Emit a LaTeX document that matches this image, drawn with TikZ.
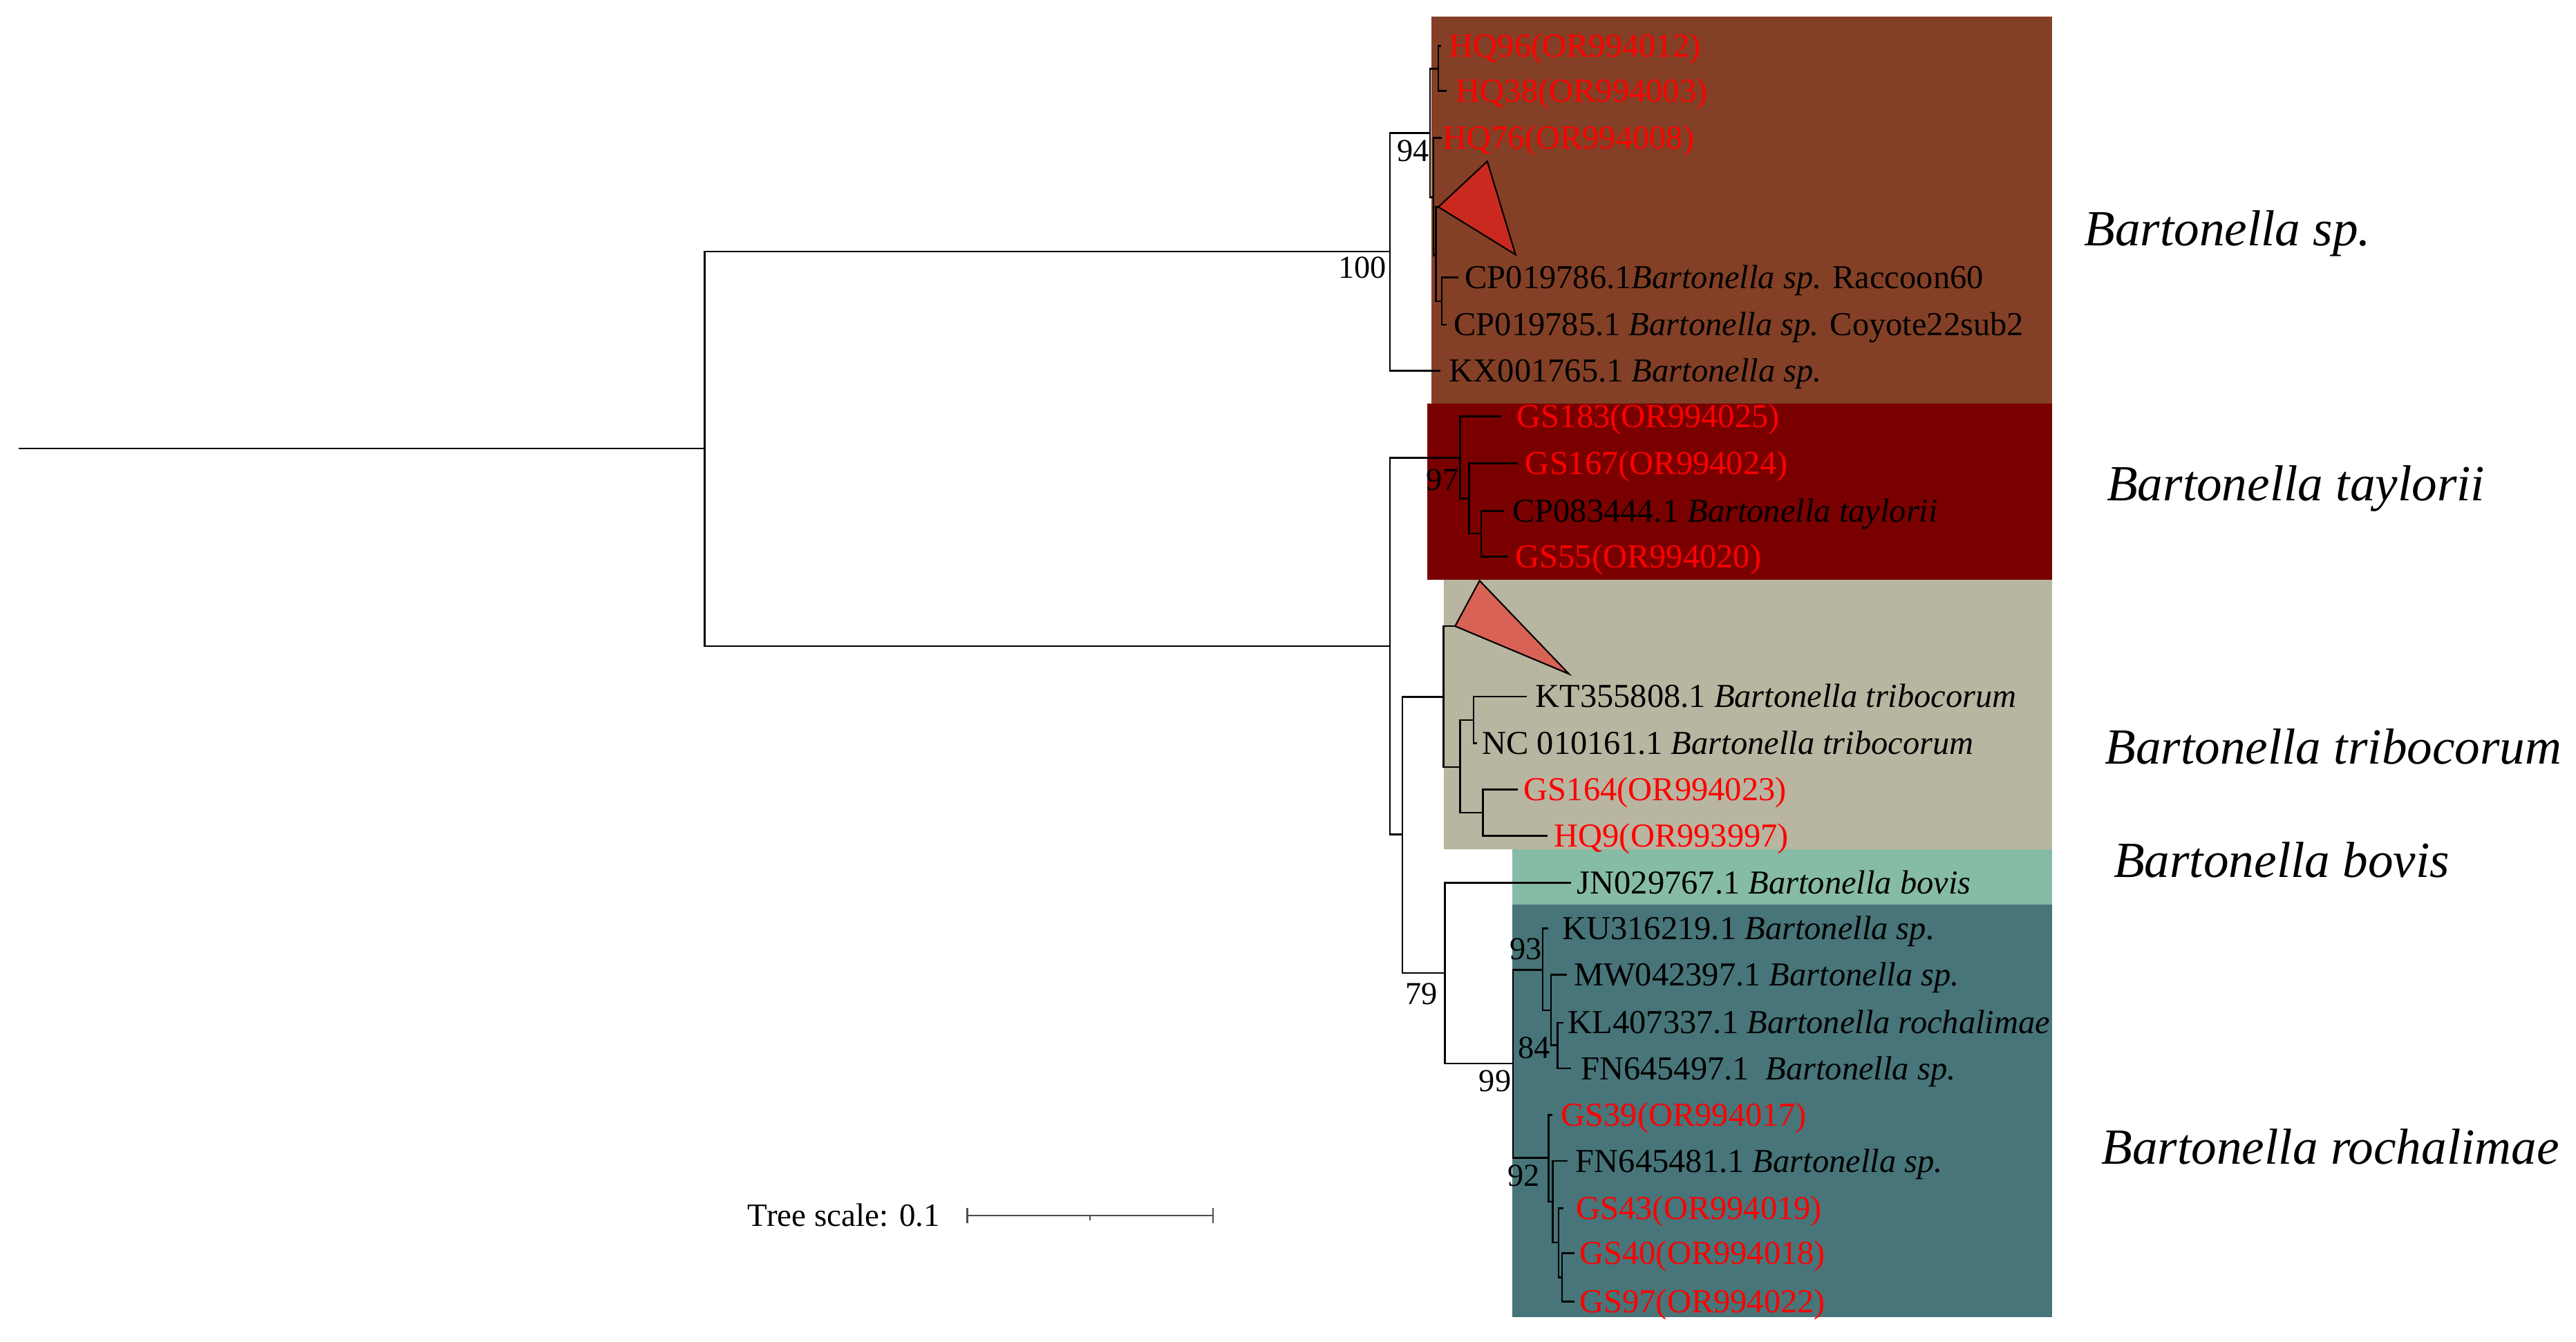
\documentclass[tikz,border=0pt]{standalone}
\usepackage{fontspec}
\setmainfont{Liberation Serif}
\newcommand\tipfnt{\fontsize{20.4}{24}\selectfont}
\newcommand\cladefnt{\fontsize{30.8}{36}\selectfont\itshape}
\newcommand\bsfnt{\fontsize{19.5}{23}\selectfont}
\definecolor{cBrown}{HTML}{834026}
\definecolor{cDarkRed}{HTML}{7A0000}
\definecolor{cKhaki}{HTML}{B8B5A0}
\definecolor{cGreen}{HTML}{86BCA6}
\definecolor{cTeal}{HTML}{477579}
\definecolor{cTriA}{HTML}{C9291F}
\definecolor{cTriB}{HTML}{D96256}
\begin{document}
\begin{tikzpicture}[x=1pt,y=-1pt,
  br/.style={line width=1.1pt, draw=black, line cap=rect},
  tri/.style={line width=0.9pt, draw=black, line join=miter},
  tiplab/.style={anchor=base west, inner sep=0pt, font=\tipfnt, yshift=-6.75pt},
  redlab/.style={tiplab, text=red},
  bs/.style={anchor=base east, inner sep=0pt, font=\bsfnt},
  clade/.style={anchor=base west, inner sep=0pt, font=\cladefnt},
  band/.style={draw=none}]
\useasboundingbox (0,0) rectangle (1568,817);
\fill[white] (0,0) rectangle (1568,817);

% clade bands
\fill[cBrown]   (871.3,10)    rectangle (1249.2,245.5);
\fill[cDarkRed] (868.8,245.5) rectangle (1249.2,353);
\fill[cKhaki]   (878.7,353)   rectangle (1249.2,517);
\fill[cGreen]   (920.6,517)   rectangle (1249.2,550.6);
\fill[cTeal]    (920.6,550.6) rectangle (1249.2,802);

% internal nodes
\coordinate (r0) at (12,273);
\coordinate (nroot) at (429,273);
\coordinate (nA) at (846,153.2);
\coordinate (nB) at (846,393.3);
\coordinate (n94) at (870.5,81);
\coordinate (nHQ) at (875.5,41.8);
\coordinate (nY) at (872.6,120);
\coordinate (nZ) at (874,155.4);
\coordinate (nCP) at (877.6,183.4);
\coordinate (n97) at (888.8,278.8);
\coordinate (nT1) at (894.2,303.6);
\coordinate (nT2) at (901.5,324.8);
\coordinate (nC) at (853.6,507.9);
\coordinate (nTR) at (878.7,424.4);
\coordinate (nTR1) at (888.8,467);
\coordinate (nTR2) at (897,438.4);
\coordinate (nTR3) at (902.6,494.7);
\coordinate (n79) at (879.5,592.4);
\coordinate (n99) at (921,647.5);
\coordinate (n93) at (939.1,590.4);
\coordinate (nMW) at (944,615);
\coordinate (n84) at (948,636.4);
\coordinate (n92) at (942.6,705);
\coordinate (nA2) at (945.2,731.6);
\coordinate (nB2) at (948.7,756.5);
\coordinate (nC2) at (950.8,777.6);

% tips
\coordinate (tHQ96) at (876.5,28);
\coordinate (tHQ38) at (880,55.4);
\coordinate (tHQ76) at (877.2,84);
\coordinate (tri1) at (875.5,126);
\coordinate (tri1a) at (905.3,98.2);
\coordinate (tri1b) at (922.5,155);
\coordinate (tCP86) at (887,169);
\coordinate (tCP85) at (880,197.7);
\coordinate (tKX) at (876,225.8);
\coordinate (tGS183) at (913.4,253.4);
\coordinate (tGS167) at (923.2,282.2);
\coordinate (tCP444) at (914.7,311.1);
\coordinate (tGS55) at (917.5,338.9);
\coordinate (tri2) at (885.7,381.2);
\coordinate (tri2a) at (900.6,353.5);
\coordinate (tri2b) at (955,410.3);
\coordinate (tKT) at (928.8,424);
\coordinate (tNC) at (898.5,452.5);
\coordinate (tGS164) at (923.2,480.7);
\coordinate (tHQ9) at (941.6,508.8);
\coordinate (tJN) at (955.6,537.4);
\coordinate (tKU) at (941.7,565.1);
\coordinate (tMW) at (953,593.5);
\coordinate (tKL) at (951,622.6);
\coordinate (tFN97) at (955.7,650.4);
\coordinate (tGS39) at (944.5,678.7);
\coordinate (tFN81) at (953.6,706.8);
\coordinate (tGS43) at (951,735.5);
\coordinate (tGS40) at (958,762.9);
\coordinate (tGS97) at (958,792.3);

% branches
\draw[br] (r0) -- (nroot);
\draw[br] (nroot) |- (nA);
\draw[br] (nroot) |- (nB);
\draw[br] (nA) |- (n94);
\draw[br] (nA) |- (tKX);
\draw[br] (n94) |- (nHQ);
\draw[br] (n94) |- (nY);
\draw[br] (nHQ) |- (tHQ96);
\draw[br] (nHQ) |- (tHQ38);
\draw[br] (nY) |- (tHQ76);
\draw[br] (nY) |- (nZ);
\draw[br] (nZ) |- (tri1);
\draw[br] (nZ) |- (nCP);
\draw[br] (nCP) |- (tCP86);
\draw[br] (nCP) |- (tCP85);
\draw[br] (nB) |- (n97);
\draw[br] (nB) |- (nC);
\draw[br] (n97) |- (tGS183);
\draw[br] (n97) |- (nT1);
\draw[br] (nT1) |- (tGS167);
\draw[br] (nT1) |- (nT2);
\draw[br] (nT2) |- (tCP444);
\draw[br] (nT2) |- (tGS55);
\draw[br] (nC) |- (nTR);
\draw[br] (nC) |- (n79);
\draw[br] (nTR) |- (tri2);
\draw[br] (nTR) |- (nTR1);
\draw[br] (nTR1) |- (nTR2);
\draw[br] (nTR1) |- (nTR3);
\draw[br] (nTR2) |- (tKT);
\draw[br] (nTR2) |- (tNC);
\draw[br] (nTR3) |- (tGS164);
\draw[br] (nTR3) |- (tHQ9);
\draw[br] (n79) |- (tJN);
\draw[br] (n79) |- (n99);
\draw[br] (n99) |- (n93);
\draw[br] (n99) |- (n92);
\draw[br] (n93) |- (tKU);
\draw[br] (n93) |- (nMW);
\draw[br] (nMW) |- (tMW);
\draw[br] (nMW) |- (n84);
\draw[br] (n84) |- (tKL);
\draw[br] (n84) |- (tFN97);
\draw[br] (n92) |- (tGS39);
\draw[br] (n92) |- (nA2);
\draw[br] (nA2) |- (tFN81);
\draw[br] (nA2) |- (nB2);
\draw[br] (nB2) |- (tGS43);
\draw[br] (nB2) |- (nC2);
\draw[br] (nC2) |- (tGS40);
\draw[br] (nC2) |- (tGS97);

% collapsed clades
\filldraw[tri, fill=cTriA] (tri1) -- (tri1a) -- (tri1b) -- cycle;
\filldraw[tri, fill=cTriB] (tri2) -- (tri2a) -- (tri2b) -- cycle;

% tip labels
\node[redlab] (lHQ96) at (882,28) {HQ96(OR994012)};
\node[redlab] (lHQ38) at (886.2,55.4) {HQ38(OR994003)};
\node[redlab] (lHQ76) at (878.1,84) {HQ76(OR994008)};
\node[tiplab] (lCP86) at (891.5,169) {CP019786.1\textit{Bartonella sp.} Raccoon60};
\node[tiplab] (lCP85) at (884.8,197.7) {CP019785.1 \textit{Bartonella sp.} Coyote22sub2};
\node[tiplab] (lKX) at (882,225.8) {KX001765.1 \textit{Bartonella sp.}};
\node[redlab] (lGS183) at (923.2,253.4) {GS183(OR994025)};
\node[redlab] (lGS167) at (928.3,282.2) {GS167(OR994024)};
\node[tiplab] (lCP444) at (920.4,311.1) {CP083444.1 \textit{Bartonella taylorii}};
\node[redlab] (lGS55) at (922.3,338.9) {GS55(OR994020)};
\node[tiplab] (lKT) at (934.4,424) {KT355808.1 \textit{Bartonella tribocorum}};
\node[tiplab] (lNC) at (902,452.5) {NC 010161.1 \textit{Bartonella tribocorum}};
\node[redlab] (lGS164) at (927.4,480.7) {GS164(OR994023)};
\node[redlab] (lHQ9) at (945.8,508.8) {HQ9(OR993997)};
\node[tiplab] (lJN) at (959.8,537.4) {JN029767.1 \textit{Bartonella bovis}};
\node[tiplab] (lKU) at (950.8,565.1) {KU316219.1 \textit{Bartonella sp.}};
\node[tiplab] (lMW) at (957.8,593.5) {MW042397.1 \textit{Bartonella sp.}};
\node[tiplab] (lKL) at (954.3,622.6) {KL407337.1 \textit{Bartonella rochalimae}};
\node[tiplab] (lFN97) at (962,650.4) {FN645497.1\hspace{10pt}\textit{Bartonella sp.}};
\node[redlab] (lGS39) at (950,678.7) {GS39(OR994017)};
\node[tiplab] (lFN81) at (959,706.8) {FN645481.1 \textit{Bartonella sp.}};
\node[redlab] (lGS43) at (959.2,735.5) {GS43(OR994019)};
\node[redlab] (lGS40) at (961.3,762.9) {GS40(OR994018)};
\node[redlab] (lGS97) at (961.3,792.3) {GS97(OR994022)};

% bootstrap values
\node[bs] (b100) at (844,169.4) {100};
\node[bs] (b94) at (870,98.2) {94};
\node[bs] (b97) at (888,298.5) {97};
\node[bs] (b79) at (875.3,611.7) {79};
\node[bs] (b99) at (920,664.7) {99};
\node[bs] (b93) at (938.8,584) {93};
\node[bs] (b84) at (943.6,644.4) {84};
\node[bs] (b92) at (937.4,722.2) {92};

% clade names
\node[clade] (cSp) at (1268.4,149.5) {Bartonella sp.};
\node[clade] (cTay) at (1282.2,304.8) {Bartonella taylorii};
\node[clade] (cTri) at (1281,465.3) {Bartonella tribocorum};
\node[clade] (cBov) at (1286.4,534) {Bartonella bovis};
\node[clade] (cRoc) at (1279,708.6) {Bartonella rochalimae};

% tree scale
\node[anchor=base west, inner sep=0pt, font=\fontsize{19.8}{23}\selectfont] (tscale) at (455,746.5) {Tree scale: 0.1};
\coordinate (sb0) at (588.8,740);
\coordinate (sb1) at (738.4,740);
\coordinate (sbm) at (663.5,740);
\draw[line width=1pt, draw=black!70] (sb0) -- (sb1);
\draw[line width=1pt, draw=black!70] ([yshift=4.5pt]sb0) -- ([yshift=-4.5pt]sb0);
\draw[line width=1pt, draw=black!70] ([yshift=4.5pt]sb1) -- ([yshift=-4.5pt]sb1);
\draw[line width=1pt, draw=black!70] (sbm) -- ([yshift=-3pt]sbm);
\end{tikzpicture}
\end{document}
